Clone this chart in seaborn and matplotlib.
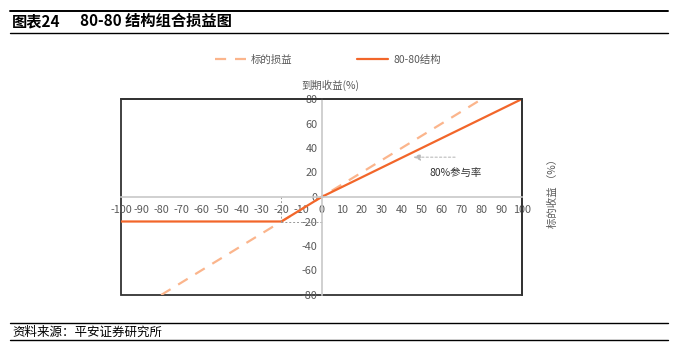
import numpy as np
import pandas as pd
import seaborn as sns
import matplotlib.pyplot as plt
from matplotlib.lines import Line2D
from matplotlib.patches import Rectangle

sns.set_style('white')
plt.rcParams['font.family'] = ['Noto Sans CJK SC', 'DejaVu Sans']
plt.rcParams['axes.unicode_minus'] = False

# underlying return (%) and payoffs
x_under = [-80, 80]
y_under = [-80, 80]
x_struct = [-100, -20, 0, 100]
y_struct = [-20, -20, 0, 80]
xticks = list(range(-100, 101, 10))
yticks = list(range(-80, 81, 20))

solid_c = '#F2662A'
dash_c = '#FBB58C'
grey = '#595959'

fig = plt.figure(figsize=(6.79, 3.56), dpi=100)
ax = fig.add_axes([121/679, 61/356, 401/679, 196/356])

df_u = pd.DataFrame({'x': x_under, 'y': y_under})
df_s = pd.DataFrame({'x': x_struct, 'y': y_struct})
sns.lineplot(data=df_u, x='x', y='y', ax=ax, color=dash_c, lw=1.6,
             dashes=False, linestyle=(0, (5, 4)), label='标的损益')
sns.lineplot(data=df_s, x='x', y='y', ax=ax, color=solid_c, lw=1.6, label='80-80结构')

ax.set_xlim(-100, 100)
ax.set_ylim(-80, 80)
ax.set_xticks(xticks)
ax.set_yticks(yticks)
ax.set_xlabel('')
ax.set_ylabel('')

# axes through the origin
for s in ['left', 'bottom']:
    ax.spines[s].set_position(('data', 0))
    ax.spines[s].set_color('#C8C8C8')
    ax.spines[s].set_linewidth(1.2)
for s in ['top', 'right']:
    ax.spines[s].set_color('#333333')
    ax.spines[s].set_linewidth(1.3)
ax.add_patch(Rectangle((0, 0), 1, 1, transform=ax.transAxes, fill=False,
                       ec='#333333', lw=1.3, clip_on=False, zorder=0))
ax.tick_params(axis='both', direction='in', length=3, width=0.8, color='#C8C8C8',
               labelsize=7.8, labelcolor=grey, pad=3)
ax.tick_params(axis='x', pad=6)

# helper dashed lines at the kink
ax.plot([-20, -20], [-20, 0], color='#999999', lw=0.7, ls=(0, (2, 2)))
ax.plot([-20, 0], [-20, -20], color='#999999', lw=0.7, ls=(0, (2, 2)))

ax.annotate('', xy=(44.5, 32.5), xytext=(68, 32.5),
            arrowprops=dict(arrowstyle='-|>', color='#BBBBBB', lw=0.8, ls=(0, (2, 2))))
ax.text(67, 20, '80%参与率', fontsize=7.5, color='#333333', ha='center', va='center')

fig.text(330/679, 1 - 85/356, '到期收益(%)', fontsize=7.5,
         color=grey, ha='center', va='center')
fig.text(553/679, 1 - 191/356, '标的收益 （%）', rotation=90, fontsize=7.5,
         color=grey, ha='center', va='center')

ax.get_legend().remove()
h, l = ax.get_legend_handles_labels()
fig.legend(h, l, ncol=2, frameon=False, fontsize=7.5, labelcolor=grey,
           loc='center', bbox_to_anchor=(328/679, 1 - 60/356),
           handlelength=3.0, handletextpad=0.5, columnspacing=6.2)

# report framing
for yy, w in [(10.5, 1.4), (33, 1.0), (323, 1.0), (340, 1.0)]:
    fig.add_artist(Line2D([10/679, 668/679], [1 - yy/356] * 2, color='black', lw=w))
fig.text(12/679, 1 - 21/356, '图表24', fontsize=11,
         fontweight='bold', ha='left', va='center', color='black')
fig.text(80/679, 1 - 21/356, '80-80 结构组合损益图', fontsize=11,
         fontweight='bold', ha='left', va='center', color='black')
fig.text(12/679, 1 - 332/356, '资料来源：平安证券研究所', fontsize=9,
         style='italic', ha='left', va='center', color='black')

fig.savefig('out.png', dpi=100)
